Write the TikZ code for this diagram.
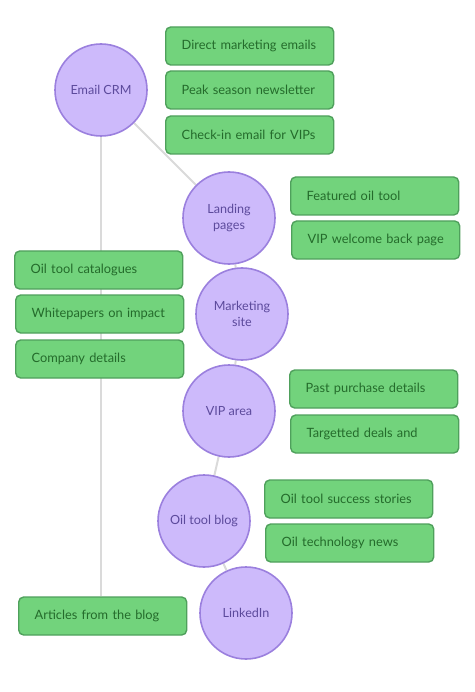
\documentclass[tikz,border=0pt]{standalone}
\usepackage{fontspec}
\setmainfont{Lato}
\usetikzlibrary{backgrounds}
\definecolor{cfill}{HTML}{CDBAFB}
\definecolor{cdraw}{HTML}{9B80DE}
\definecolor{ctext}{HTML}{5C4A9C}
\definecolor{bfill}{HTML}{72D37C}
\definecolor{bdraw}{HTML}{4FA05C}
\definecolor{btext}{HTML}{246B2B}
\definecolor{lcol}{HTML}{DADADA}
\tikzset{
  hub/.style={circle, fill=cfill, draw=cdraw, line width=1.6pt, minimum size=92pt, inner sep=0pt, align=center, text=ctext, font=\fontsize{12.6}{16}\selectfont},
  item/.style={anchor=west, rectangle, rounded corners=5pt, fill=bfill, draw=bdraw, line width=1.4pt, minimum height=38pt, inner xsep=6pt, text width=156pt, align=left, text=btext, font=\fontsize{12.8}{14}\selectfont, execute at begin node={\hspace*{10pt}}},
  link/.style={draw=lcol, line width=2pt}
}
\begin{document}
\begin{tikzpicture}[x=1pt,y=-1pt]
\useasboundingbox (0,0) rectangle (474,692);
\node[hub] (ecrm) at (101,90) {Email CRM};
\node[hub] (land) at (229,218) {Landing\\pages};
\node[hub] (mkt) at (242,314) {Marketing\\site};
\node[hub] (vip) at (229,411) {VIP area};
\node[hub] (blog) at (204,521) {Oil tool blog};
\node[hub] (lnk) at (246,613) {LinkedIn};

\node[item] (b1) at (165,46) {Direct marketing emails};
\node[item] (b2) at (165,90) {Peak season newsletter};
\node[item] (b3) at (165,135) {Check-in email for VIPs};
\node[item] (b4) at (290,196) {Featured oil tool};
\node[item] (b5) at (291,240) {VIP welcome back page};
\node[item] (b6) at (14,270) {Oil tool catalogues};
\node[item] (b7) at (15,314) {Whitepapers on impact};
\node[item] (b8) at (15,359) {Company details};
\node[item] (b9) at (289,389) {Past purchase details};
\node[item] (b10) at (290,434) {Targetted deals and};
\node[item] (b11) at (264,499) {Oil tool success stories};
\node[item] (b12) at (265,543) {Oil technology news};
\node[item] (art) at (18,616) {Articles from the blog};

\begin{scope}[on background layer]
\draw[link] (ecrm) -- (land);
\draw[link] (ecrm.south) -- (ecrm.south |- art.north);
\draw[link] (land) -- (mkt);
\draw[link] (mkt) -- (vip);
\draw[link] (vip) -- (blog);
\draw[link] (blog) -- (lnk);
\end{scope}
\end{tikzpicture}
\end{document}
